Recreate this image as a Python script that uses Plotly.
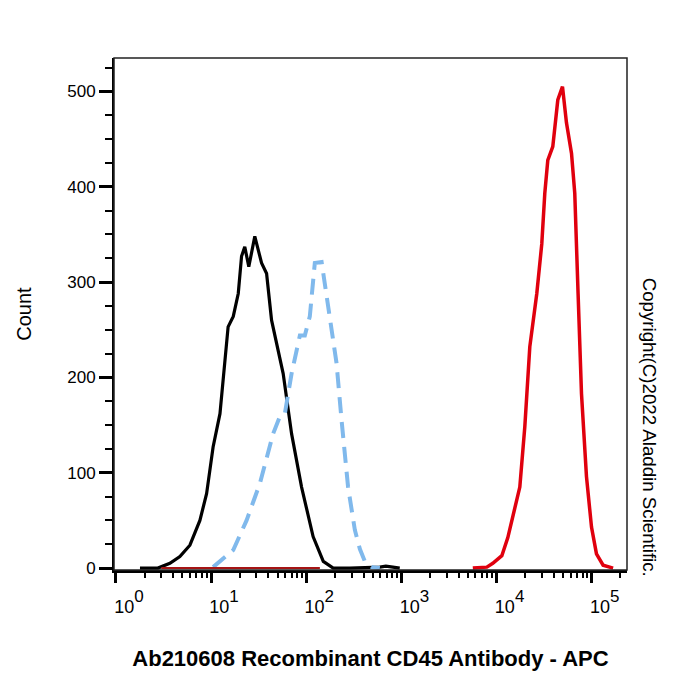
import plotly.graph_objects as go

# ---- data (fluorescence intensity, count) ----
black_x = [1.79, 2.76, 3.69, 4.70, 5.99, 7.63, 8.97, 10.5, 12.4, 15.1, 17.1, 19.3, 20.9, 22.6,
           24.9, 28.8, 33.9, 38.3, 43.2, 57.2, 70.1, 89.3, 118, 151, 192, 287, 593, 686, 812, 960]
black_y = [0, 0, 5, 12, 24, 50, 78, 127, 162, 253, 264, 288, 327, 337,
           316, 348, 320, 309, 260, 204, 141, 85, 33, 7, 0, 0, 1, 2, 1, 0]

blue_x = [10.5, 17.1, 23.6, 32.6, 44.9, 52.8, 59.6, 70.1, 85.7, 96.6, 109, 123, 145, 157,
          184, 208, 235, 275, 324, 366, 413, 489, 593]
blue_y = [1, 19, 50, 89, 141, 159, 162, 204, 244, 244, 264, 320, 321, 299,
          250, 215, 155, 85, 40, 20, 7, 1, 0]

red_base_x = [3.0, 139]
red_base_y = [0, 0]
red_x = [5623, 7890, 9120, 11350, 13120, 15540, 17530, 19780, 22320, 26440,
         29830, 32080, 34510, 38930, 43950, 49220, 54200, 61240, 66260, 71780, 77960,
         87960, 99310, 112000, 131500, 167500]
red_y = [0, 1, 5, 13, 32, 61, 85, 148, 232, 288,
         340, 393, 428, 442, 491, 505, 467, 435, 393, 288, 183,
         96, 43, 15, 3, 0]

x_tick_vals = [1, 10, 100, 1000, 10000, 100000]
x_tick_exps = ["0", "1", "2", "3", "4", "5"]
y_tick_vals = [0, 100, 200, 300, 400, 500]

x_title = "Ab210608 Recombinant CD45 Antibody - APC"
y_title = "Count"
copyright_text = "Copyright(C)2022 Aladdin Scientific."

FONT = "Liberation Sans, Arial, sans-serif"

fig = go.Figure()
fig.add_trace(go.Scatter(x=black_x, y=black_y, mode="lines",
                         line=dict(color="#000000", width=3.2), showlegend=False))
fig.add_trace(go.Scatter(x=blue_x, y=blue_y, mode="lines",
                         line=dict(color="#80B9EC", width=4, dash="16px,9px"), showlegend=False))
fig.add_trace(go.Scatter(x=red_base_x, y=red_base_y, mode="lines",
                         line=dict(color="#A51515", width=2), showlegend=False))
fig.add_trace(go.Scatter(x=red_x, y=red_y, mode="lines",
                         line=dict(color="#E0000E", width=3.5), showlegend=False))

x_tick_text = ["10<sup style='font-size:17px !important'>%s</sup>" % e for e in x_tick_exps]

fig.update_layout(
    width=700, height=700,
    margin=dict(l=114, r=73, t=58, b=130),
    paper_bgcolor="white", plot_bgcolor="white",
    font=dict(family=FONT, color="black", size=17),
    xaxis=dict(
        type="log", range=[-0.02, 5.37],
        showgrid=False, zeroline=False,
        showline=True, linecolor="black", linewidth=3,
        ticks="outside", ticklen=10, tickwidth=3, tickcolor="black",
        tickvals=x_tick_vals, ticktext=x_tick_text,
        tickfont=dict(size=18, family=FONT, color="black"),
        ticklabelshift=13, ticklabelstandoff=8,
        minor=dict(ticks="outside", ticklen=5, tickwidth=2, tickcolor="black",
                   dtick="D1", showgrid=False),
        title=dict(text="<b>" + x_title + "</b>", standoff=36,
                   font=dict(size=22, family=FONT, color="black")),
    ),
    yaxis=dict(
        range=[-2, 535],
        showgrid=False, zeroline=False,
        showline=True, linecolor="black", linewidth=2,
        ticks="outside", ticklen=13, tickwidth=3, tickcolor="black",
        tickvals=y_tick_vals,
        tickfont=dict(size=17, family=FONT, color="black"),
        minor=dict(ticks="outside", ticklen=7, tickwidth=2, tickcolor="black",
                   dtick=25, showgrid=False),
        title=dict(text=y_title, standoff=30,
                   font=dict(size=20, family=FONT, color="black")),
    ),
    shapes=[dict(type="rect", xref="paper", yref="paper", x0=0, x1=1, y0=0, y1=1,
                 line=dict(color="#222222", width=1.5), layer="above")],
    annotations=[dict(text=copyright_text, xref="paper", yref="paper",
                      x=1.0, xshift=22, y=0.28, yanchor="middle", xanchor="center",
                      textangle=90, showarrow=False,
                      font=dict(size=18.7, family=FONT, color="black"))],
)

fig.write_html("out.html")
